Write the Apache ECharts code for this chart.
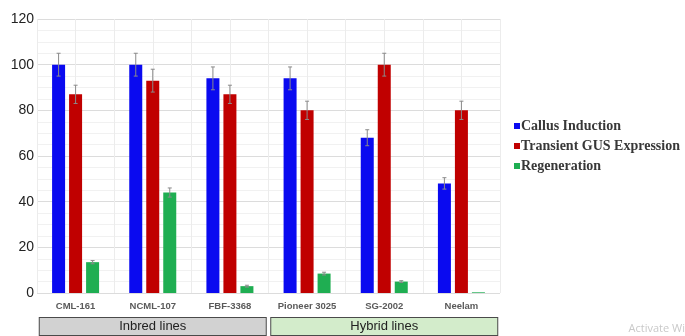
<!DOCTYPE html>
<html>
<head>
<meta charset="utf-8">
<script src="https://cdn.jsdelivr.net/npm/echarts@6/dist/echarts.min.js"></script>
<style>
  html, body { margin: 0; padding: 0; background: #ffffff; }
  #chart { width: 685px; height: 336px; }
</style>
</head>
<body>
<div id="chart"></div>
<script>
// Genotypes and their groups
const categories = ['CML-161', 'NCML-107', 'FBF-3368', 'Pioneer 3025', 'SG-2002', 'Neelam'];
const groups = ['Inbred lines', 'Hybrid lines'];
const yTicks = [0, 20, 40, 60, 80, 100, 120];

// Response percentages per genotype
const callusInduction = [100, 100, 94, 94, 68, 48];
const transientGUS = [87, 93, 87, 80, 100, 80];
const regeneration = [13.5, 44, 3, 8.5, 5, 0.3];

// Error (± SD) per genotype
const callusErr = [5, 5, 5, 5, 3.5, 2.5];
const gusErr = [4, 5, 4, 4, 5, 4];
const regenErr = [0.7, 2, 0.4, 0.6, 0.4, 0];

const seriesNames = ['Callus Induction', 'Transient GUS Expression', 'Regeneration'];
const colors = ['#0a0af0', '#c00000', '#1fae52'];

const BAR_W = 13;
const BAR_GAP = 4;

function errorSeries(values, errs, slot) {
  return {
    type: 'custom',
    xAxisIndex: 0,
    yAxisIndex: 0,
    silent: true,
    z: 5,
    data: values.map((v, i) => [i, v, errs[i]]),
    renderItem: function (params, api) {
      const i = api.value(0);
      const v = api.value(1);
      const e = api.value(2);
      if (!e) return null;
      const shift = (slot - 1) * (BAR_W + BAR_GAP);
      const top = api.coord([i, v + e]);
      const bot = api.coord([i, v - e]);
      const x = top[0] + shift;
      const cap = 2;
      const style = { stroke: '#8a8a8a', lineWidth: 1 };
      return {
        type: 'group',
        children: [
          { type: 'line', shape: { x1: x, y1: top[1], x2: x, y2: bot[1] }, style: style },
          { type: 'line', shape: { x1: x - cap, y1: top[1], x2: x + cap, y2: top[1] }, style: style },
          { type: 'line', shape: { x1: x - cap, y1: bot[1], x2: x + cap, y2: bot[1] }, style: style }
        ]
      };
    }
  };
}

function barSeries(name, values, color) {
  return {
    name: name,
    type: 'bar',
    xAxisIndex: 0,
    yAxisIndex: 0,
    data: values,
    barWidth: BAR_W,
    barGap: (BAR_GAP / BAR_W * 100) + '%',
    itemStyle: { color: color }
  };
}

const groupBox = {
  width: 226,
  height: 17,
  lineHeight: 17,
  align: 'center',
  fontFamily: 'Liberation Sans, Arial, sans-serif',
  fontSize: 13,
  color: '#222222',
  borderColor: '#4a4a4a',
  borderWidth: 1
};

const chart = echarts.init(document.getElementById('chart'), null, { renderer: 'canvas' });

chart.setOption({
  animation: false,
  backgroundColor: '#ffffff',
  color: colors,
  grid: { left: 37, right: 185, top: 19, bottom: 41, containLabel: false },
  legend: {
    orient: 'vertical',
    left: 509,
    top: 114,
    itemWidth: 6,
    itemHeight: 6,
    itemGap: 6,
    icon: 'rect',
    data: seriesNames,
    textStyle: {
      fontFamily: 'Liberation Serif, serif',
      fontWeight: 'bold',
      fontSize: 14,
      color: '#383838',
      padding: [0, 0, 0, -4]
    }
  },
  xAxis: [
    {
      type: 'category',
      data: categories,
      position: 'bottom',
      axisLine: { show: false },
      axisTick: { show: false },
      splitLine: { show: false },
      axisLabel: {
        interval: 0,
        margin: 8,
        fontFamily: 'Liberation Sans, Arial, sans-serif',
        fontWeight: 'bold',
        fontSize: 9.5,
        color: '#5a5a5a'
      }
    },
    {
      // half-category grid lines
      type: 'value',
      min: 0,
      max: 6,
      interval: 0.5,
      position: 'top',
      axisLine: { show: false },
      axisTick: { show: false },
      axisLabel: { show: false },
      splitLine: { show: true, lineStyle: { color: '#ececec', width: 1 } }
    },
    {
      // genotype groups
      type: 'category',
      data: groups,
      position: 'bottom',
      offset: 25,
      axisLine: { show: false },
      axisTick: { show: false },
      axisLabel: {
        interval: 0,
        margin: 0,
        verticalAlign: 'top',
        formatter: function (value, idx) {
          return '{' + (idx === 0 ? 'inbred' : 'hybrid') + '|' + value + '}';
        },
        rich: {
          inbred: Object.assign({ backgroundColor: '#d2d2d2' }, groupBox),
          hybrid: Object.assign({ backgroundColor: '#d3eccb' }, groupBox)
        }
      }
    }
  ],
  yAxis: {
    type: 'value',
    min: yTicks[0],
    max: yTicks[yTicks.length - 1],
    interval: 20,
    axisLine: { show: false },
    axisTick: { show: false },
    axisLabel: {
      margin: 3,
      padding: [0, 0, 5, 0],
      fontFamily: 'Liberation Sans, Arial, sans-serif',
      fontSize: 14,
      color: '#222222'
    },
    splitLine: { show: true, lineStyle: { color: '#dcdcdc', width: 1 } },
    minorTick: { show: false, splitNumber: 4 },
    minorSplitLine: { show: true, lineStyle: { color: '#f1f1f1', width: 1 } }
  },
  series: [
    barSeries(seriesNames[0], callusInduction, colors[0]),
    barSeries(seriesNames[1], transientGUS, colors[1]),
    barSeries(seriesNames[2], regeneration, colors[2]),
    errorSeries(callusInduction, callusErr, 0),
    errorSeries(transientGUS, gusErr, 1),
    errorSeries(regeneration, regenErr, 2)
  ],
  graphic: [
    {
      type: 'text',
      right: 0,
      bottom: 2,
      style: {
        text: 'Activate Wi',
        font: '11px "Open Sans", sans-serif',
        fill: '#c9c9c9'
      }
    }
  ]
});
</script>
</body>
</html>
